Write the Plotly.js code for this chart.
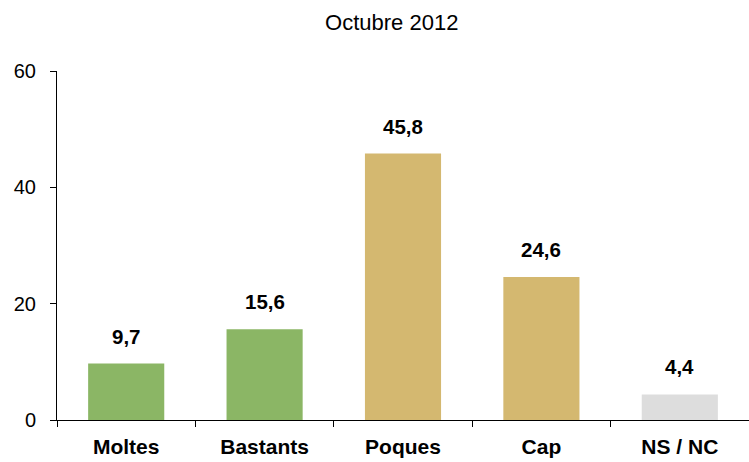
<!DOCTYPE html>
<html>
<head>
<meta charset="utf-8">
<script src="https://cdn.plot.ly/plotly-3.0.1.min.js"></script>
<style>html,body{margin:0;padding:0;background:#fff;}#chart{width:749px;height:462px;}</style>
</head>
<body>
<div id="chart"></div>
<script>
var categories = ["Moltes", "Bastants", "Poques", "Cap", "NS / NC"];
var values = [9.7, 15.6, 45.8, 24.6, 4.4];
var barColors = ["#8BB665", "#8BB665", "#D4B870", "#D4B870", "#DDDDDD"];
var yTicks = [0, 20, 40, 60];
var titleText = "Octubre 2012";

var fmt = function (v) { return v.toFixed(1).replace(".", ","); };

var trace = {
  type: "bar",
  x: categories,
  y: values,
  marker: { color: barColors, line: { width: 0 } },
  width: 0.55,
  hoverinfo: "none"
};

var annotations = categories.map(function (c, i) {
  return {
    x: c, y: values[i], xref: "x", yref: "y",
    text: "<b>" + fmt(values[i]) + "</b>",
    showarrow: false, yanchor: "bottom", yshift: 14,
    font: { family: "Liberation Sans, Arial, sans-serif", size: 20.5, color: "#000" }
  };
});

var layout = {
  width: 749, height: 462,
  margin: { l: 57, r: 0, t: 71, b: 42 },
  paper_bgcolor: "#fff", plot_bgcolor: "#fff",
  showlegend: false,
  title: {
    text: titleText, x: 0.523, xanchor: "center", y: 0.952, yanchor: "middle",
    font: { family: "Liberation Sans, Arial, sans-serif", size: 22, color: "#000" }
  },
  xaxis: {
    type: "category",
    showline: true, linecolor: "#000", linewidth: 1,
    ticks: "outside", tickson: "boundaries", ticklen: 6, tickcolor: "#000",
    tickfont: { family: "Liberation Sans, Arial, sans-serif", size: 21, color: "#000", weight: "bold" },
    ticklabelstandoff: 8,
    showgrid: false, zeroline: false, fixedrange: true
  },
  yaxis: {
    range: [0, 60], tickvals: yTicks,
    showline: true, linecolor: "#000", linewidth: 1,
    ticks: "outside", ticklen: 6, tickcolor: "#000",
    tickfont: { family: "Liberation Sans, Arial, sans-serif", size: 20, color: "#000" },
    ticklabelstandoff: 10,
    showgrid: false, zeroline: false, fixedrange: true
  },
  annotations: annotations
};

Plotly.newPlot("chart", [trace], layout, { displayModeBar: false, staticPlot: true });
</script>
</body>
</html>
